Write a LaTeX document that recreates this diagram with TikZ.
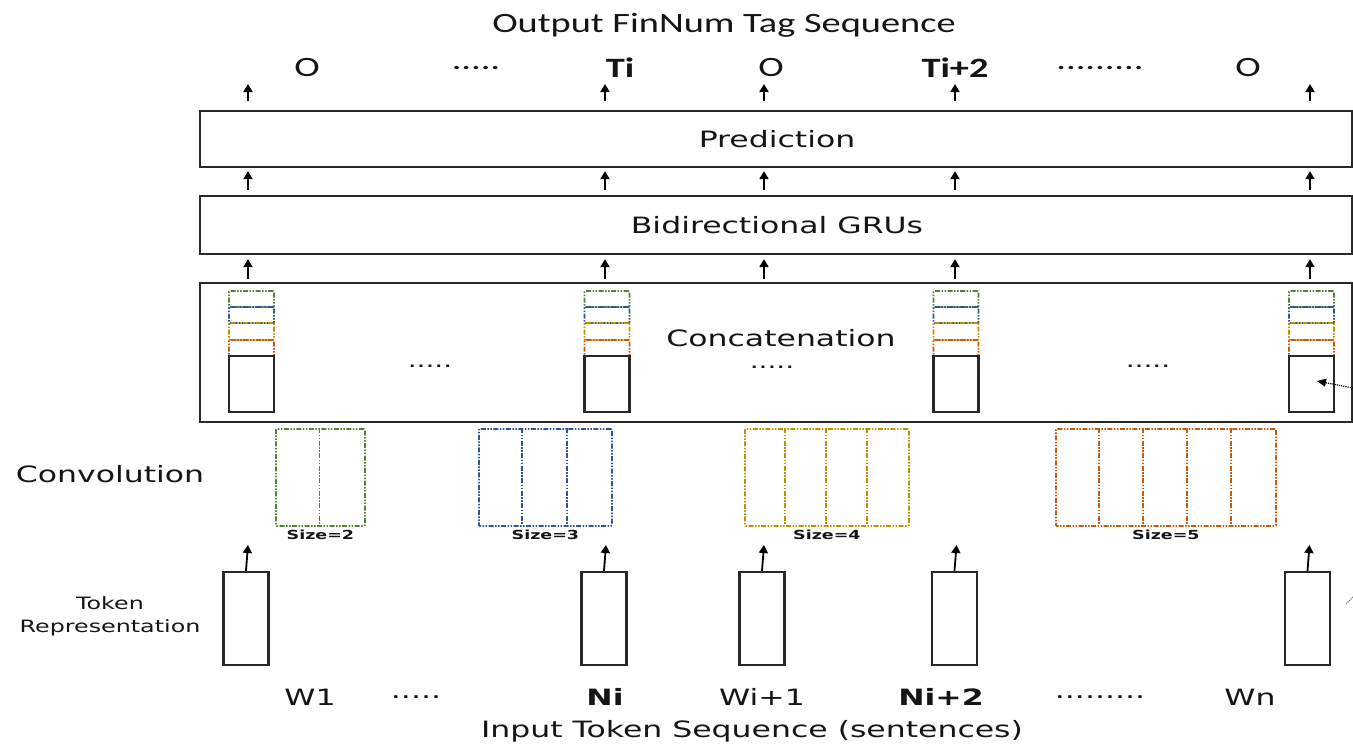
\documentclass[tikz,border=0pt]{standalone}
\usepackage{fontspec}
\newfontfamily\vf[FakeStretch=1.4]{DejaVu Sans}
\newfontfamily\cf[FakeStretch=1.37]{Carlito}
\usetikzlibrary{arrows.meta,calc}
\definecolor{cgreen}{RGB}{84,130,53}
\definecolor{cblue}{RGB}{47,85,151}
\definecolor{cyellow}{RGB}{191,144,0}
\definecolor{corange}{RGB}{197,90,17}
\definecolor{tx}{RGB}{20,20,25}
\definecolor{bd}{RGB}{40,40,40}
\tikzset{
  lbl/.style={font=\vf\fontsize{22.5}{26}\selectfont, text=tx, inner sep=0pt},
  dots/.style={font=\vf\fontsize{20}{24}\selectfont, text=tx, inner sep=0pt},
  small/.style={font=\vf\fontsize{17}{23}\selectfont, text=tx, inner sep=0pt, align=center},
  sizelbl/.style={font=\vf\bfseries\fontsize{12.5}{14}\selectfont, text=tx, inner sep=0pt, anchor=north, yshift=-3pt},
  tag/.style={font=\cf\fontsize{28}{32}\selectfont, text=tx, inner sep=0pt},
  btag/.style={tag, font=\cf\bfseries\fontsize{28}{32}\selectfont},
  layer/.style={draw=bd, line width=2.3pt, fill=white, minimum width=1152pt, inner sep=0pt},
  arr/.style={line width=1.8pt, draw=black, -{Triangle[length=8pt,width=9pt]}},
  cdash/.style={line width=1.8pt, dash pattern=on 5pt off 1.5pt on 1.5pt off 1.5pt on 1.5pt off 1.5pt},
  cbox/.style={cdash, rounded corners=1pt, minimum width=45pt, inner sep=0pt},
  catbox/.style={draw=bd, line width=2.3pt, minimum width=45pt, minimum height=56pt, inner sep=0pt},
  tokbox/.style={draw=bd, line width=2.3pt, minimum width=45pt, minimum height=93pt, inner sep=0pt},
  convbox/.style={cdash, rounded corners=1pt, minimum height=97pt, inner sep=0pt, anchor=north west},
}
\begin{document}
\begin{tikzpicture}[x=1pt,y=-1pt]
\useasboundingbox (0,0) rectangle (1353,744);

% title and output tags
\node[tag] (title) at (724,25) {Output FinNum Tag Sequence};
\node[tag]  (t1) at (307,68) {O};
\node[tag]  (t2) at (476,68) {.....};
\node[btag] (t3) at (620,68) {Ti};
\node[tag]  (t4) at (771,68) {O};
\node[btag] (t5) at (955,68) {Ti+2};
\node[tag]  (t6) at (1100,68) {.........};
\node[tag]  (t7) at (1248,68) {O};

% layers
\node[layer, minimum height=56pt] (pred) at (776,139) {};
\node[lbl] (predl) at (777,139) {Prediction};
\node[layer, minimum height=58pt] (gru) at (776,225) {};
\node[lbl] (grul) at (777,225) {Bidirectional GRUs};
\node[layer, minimum height=139pt] (cat) at (776,352.5) {};
\node[lbl] (catl) at (781,338) {Concatenation};

% column coordinates
\foreach \i/\x in {1/248,2/605,3/764,4/955,5/1310}{
  \coordinate (c\i) at (\x,0);
  \coordinate (top\i) at (\x,84);
  \draw[arr, shorten <=9pt] (pred.north -| c\i) -- (top\i);
  \draw[arr, shorten <=5pt, shorten >=3pt] (gru.north -| c\i) -- (pred.south -| c\i);
  \draw[arr, shorten <=3pt, shorten >=4pt] (cat.north -| c\i) -- (gru.south -| c\i);
}

% concatenation stacks
\foreach \i/\x in {1/251.5,2/607,3/956,4/1311.5}{
  \node[cbox, draw=cgreen, minimum height=16pt] (sg\i) at (\x,299) {};
  \node[cbox, draw=cblue, minimum height=16pt] (sb\i) at (\x,315) {};
  \node[cbox, draw=cyellow, minimum height=17pt] (sy\i) at (\x,331.5) {};
  \node[cbox, draw=corange, minimum height=16pt] (so\i) at (\x,348) {};
  \node[catbox] (cb\i) at (\x,384) {};
}
\node[dots] (cd1) at (430,366) {.....};
\node[dots] (cd2) at (772,367) {.....};
\node[dots] (cd3) at (1148,366) {.....};

% dotted pointer at right edge
\coordinate (pA) at (1353,388);
\coordinate (pB) at (1317,381);
\draw[line width=1.2pt, densely dotted, -{Triangle[length=9pt,width=8pt]}] (pA) -- (pB);
\coordinate (pC) at (1346,604);
\coordinate (pD) at (1353,597);
\draw[line width=1.2pt, densely dotted, gray] (pC) -- (pD);

% convolution
\node[lbl] (convl) at (110,474) {Convolution};
\node[convbox, draw=cgreen, minimum width=89pt] (conv2) at (275,428) {};
\draw[cdash, draw=cgreen] (319.5,428) -- (319.5,525);
\node[sizelbl] (s2) at (conv2.south) {Size=2};

\node[convbox, draw=cblue, minimum width=133pt] (conv3) at (478,428) {};
\foreach \j in {1,2} \draw[cdash, draw=cblue] ({478+\j*44.33},428) -- ({478+\j*44.33},525);
\node[sizelbl] (s3) at (conv3.south) {Size=3};

\node[convbox, draw=cyellow, minimum width=164pt] (conv4) at (744,428) {};
\foreach \j in {1,2,3} \draw[cdash, draw=cyellow] ({744+\j*41},428) -- ({744+\j*41},525);
\node[sizelbl] (s4) at (conv4.south) {Size=4};

\node[convbox, draw=corange, minimum width=220pt] (conv5) at (1055,428) {};
\foreach \j in {1,2,3,4} \draw[cdash, draw=corange] ({1055+\j*44},428) -- ({1055+\j*44},525);
\node[sizelbl] (s5) at (conv5.south) {Size=5};

% token representation
\node[small] (tokl) at (110,616) {Token\\Representation};
\foreach \i/\x in {1/246,2/604,3/762,4/954.5,5/1307.5}{
  \node[tokbox] (tok\i) at (\x,618.5) {};
  \coordinate (ta\i) at (\x+2,545);
  \draw[arr] (tok\i.north) -- (ta\i);
}

% input tokens
\node[lbl] (w1) at (310,697) {W1};
\node[lbl] (w2) at (416,697) {.....};
\node[lbl, font=\vf\bfseries\fontsize{22.5}{26}\selectfont] (w3) at (605,697) {Ni};
\node[lbl] (w4) at (762,697) {Wi+1};
\node[lbl, font=\vf\bfseries\fontsize{22.5}{26}\selectfont] (w5) at (941,697) {Ni+2};
\node[lbl] (w6) at (1100,697) {.........};
\node[lbl] (w7) at (1250,697) {Wn};
\node[lbl] (inl) at (752,731) {Input Token Sequence (sentences)};
\end{tikzpicture}
\end{document}
